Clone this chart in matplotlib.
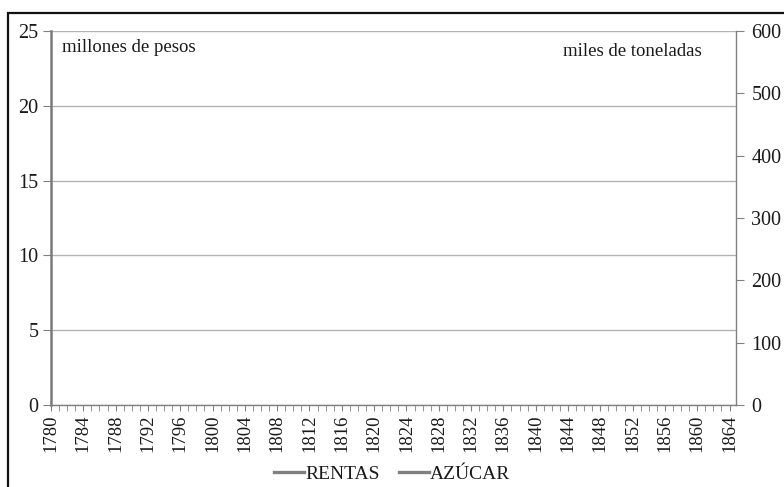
import matplotlib
matplotlib.use("Agg")
import matplotlib.pyplot as plt
from matplotlib.patches import Rectangle

plt.rcParams['font.family'] = ['Liberation Serif', 'DejaVu Serif']

# Years on the category axis
years = list(range(1780, 1865))
tick_years = list(range(1780, 1865, 4))

# Series (no observations plotted)
rentas_years = []
rentas = []          # millones de pesos
azucar_years = []
azucar = []          # miles de toneladas

left_ticks = [0, 5, 10, 15, 20, 25]
right_ticks = [0, 100, 200, 300, 400, 500, 600]

W, H = 784, 487
fig = plt.figure(figsize=(W / 100, H / 100), dpi=100)

# plot area in pixels
x0, x1, y0, y1 = 51, 736, 31, 405
ax = fig.add_axes([x0 / W, 1 - y1 / H, (x1 - x0) / W, (y1 - y0) / H])
ax2 = ax.twinx()

grey = '#808080'
grid_grey = '#b3b3b3'
txt = '#1a1a1a'

l1, = ax.plot(rentas_years, rentas, color=grey, lw=2.4, label='RENTAS')
l2, = ax2.plot(azucar_years, azucar, color=grey, lw=2.4, label='AZÚCAR')

ax.set_xlim(1780, 1864.8)
ax.set_ylim(0, 25)
ax2.set_ylim(0, 600)

ax.set_yticks(left_ticks)
ax2.set_yticks(right_ticks)
ax.set_xticks(years, minor=True)
ax.set_xticks(tick_years)
ax.set_xticklabels([str(y) for y in tick_years], rotation=90)

for a in (ax, ax2):
    for s in a.spines.values():
        s.set_visible(False)
ax.spines['left'].set_visible(True)
ax.spines['left'].set_color('#7a7a7a')
ax.spines['left'].set_linewidth(1.8)
ax.spines['bottom'].set_visible(True)
ax.spines['bottom'].set_color(grey)
ax.spines['bottom'].set_linewidth(1.0)
ax2.spines['right'].set_visible(True)
ax2.spines['right'].set_color(grey)
ax2.spines['right'].set_linewidth(1.0)

ax.yaxis.grid(True, color=grid_grey, lw=1.0)
ax.set_axisbelow(True)

ax.tick_params(axis='y', length=6, color=grey, labelsize=14.5, pad=3,
               labelcolor=txt)
ax2.tick_params(axis='y', length=6, color=grey, labelsize=14.5, pad=5,
                labelcolor=txt)
ax.tick_params(axis='x', which='both', length=4, color=grey, labelsize=13.5,
               pad=3, labelcolor=txt)

ax.text(62, H - 52, 'millones de pesos', transform=None,
        ha='left', va='baseline', fontsize=13.5, color=txt)
ax.text(702, H - 56, 'miles de toneladas', transform=None,
        ha='right', va='baseline', fontsize=13.5, color=txt)

fig.legend(handles=[l1, l2], loc='center', bbox_to_anchor=(0.5, 1 - 474 / H),
           ncol=2, frameon=False, fontsize=14, handlelength=1.55,
           handletextpad=0.05, columnspacing=1.0, labelcolor=txt)

# outer frame
fig.patches.append(Rectangle((8 / W, -0.1), 1.2, 1 - 13 / H + 0.1,
                             transform=fig.transFigure, fill=False,
                             edgecolor='#111111', lw=1.6))

fig.savefig('out.png', dpi=100)
